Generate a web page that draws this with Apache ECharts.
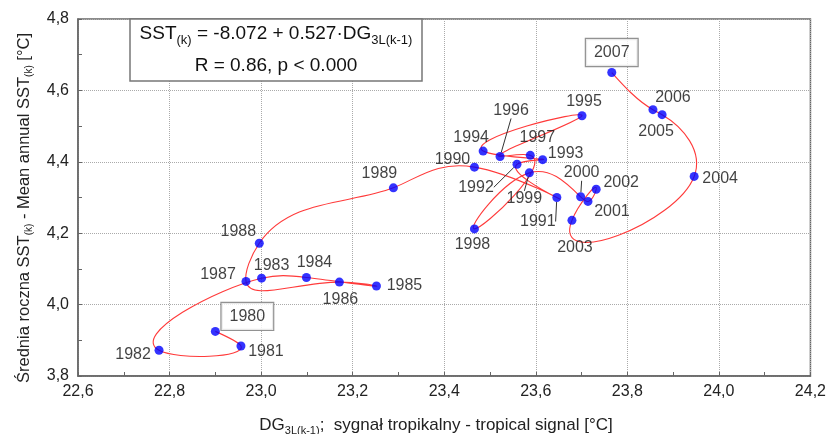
<!DOCTYPE html>
<html>
<head>
<meta charset="utf-8">
<script src="https://cdn.jsdelivr.net/npm/echarts@6/dist/echarts.min.js"></script>
<style>html,body{margin:0;padding:0;background:#fff}#c{width:829px;height:434px}</style>
</head>
<body>
<div id="c"></div>
<script>
// ---- data ----
const years = [1980,1981,1982,1983,1984,1985,1986,1987,1988,1989,1990,1991,1992,1993,1994,1995,1996,1997,1998,1999,2000,2001,2002,2003,2004,2005,2006,2007];
const dgValues = [22.900,22.956,22.777,23.001,23.099,23.252,23.171,22.967,22.996,23.289,23.466,23.646,23.559,23.615,23.485,23.701,23.522,23.588,23.466,23.586,23.698,23.714,23.732,23.679,23.946,23.876,23.856,23.766];
const sstValues = [3.925,3.884,3.872,4.074,4.076,4.052,4.063,4.065,4.172,4.327,4.385,4.300,4.393,4.406,4.430,4.529,4.415,4.418,4.212,4.369,4.302,4.289,4.323,4.236,4.359,4.532,4.546,4.650];
const xTicks = [22.6,22.8,23.0,23.2,23.4,23.6,23.8,24.0,24.2];
const yTicks = [3.8,4.0,4.2,4.4,4.6,4.8];
const boxedYears = [1980, 2007];
const leaderYears = [1991, 1992, 1996, 1999, 2000];
// label offsets (px, label centre relative to point)
const labelOffsets = {
  1980:[32,-15],1981:[25,6],1982:[-26,4],1983:[10,-13],1984:[8,-15],1985:[28,0],1986:[1,17],
  1987:[-28,-7],1988:[-21,-12],1989:[-14,-14],1990:[-22,-8],1991:[-19,24],1992:[-41,23],
  1993:[23,-6],1994:[-12,-13],1995:[2,-14],1996:[11,-46],1997:[7,-18],1998:[-2,16],
  1999:[-5,26],2000:[1,-24],2001:[24,10],2002:[25,-7],2003:[3,27],2004:[26,2],
  2005:[-6,17],2006:[20,-12],2007:[0,-20]
};

const FONT = 'Liberation Sans, Arial, sans-serif';
const fmt = v => v.toFixed(1).replace('.', ',');

const linePts = years.map((y,i)=>[dgValues[i], sstValues[i], y]);
function makeData(filterFn){
  return years.map((y,i)=>({y,i})).filter(o=>filterFn(o.y)).map(o=>{
    const item = {value:[dgValues[o.i], sstValues[o.i], o.y]};
    if (boxedYears.includes(o.y)) {
      item.label = {backgroundColor:'#fff', borderColor:'#777', borderWidth:1.2, padding:[6,8,5,8]};
    }
    return item;
  });
}
const plainData = makeData(y=>!leaderYears.includes(y));
const leaderData = makeData(y=>leaderYears.includes(y));

function layoutFor(data){
  return function(p){
    const yr = data[p.dataIndex].value[2];
    const o = labelOffsets[yr];
    return {dx:o[0], dy:o[1]};
  };
}

// natural cubic spline (chord-length parametrised) drawn through the axis-mapped points
function naturalSplineDerivs(t, v){
  const n = v.length - 1;
  const h = [];
  for (let i=0;i<n;i++) h.push(t[i+1]-t[i]);
  const a=[],b=[],c=[],d=[];
  for (let i=1;i<n;i++){
    a.push(h[i-1]); b.push(2*(h[i-1]+h[i])); c.push(h[i]);
    d.push(6*((v[i+1]-v[i])/h[i] - (v[i]-v[i-1])/h[i-1]));
  }
  const m = d.length;
  for (let i=1;i<m;i++){ const w=a[i]/b[i-1]; b[i]-=w*c[i-1]; d[i]-=w*d[i-1]; }
  const M = new Array(n+1).fill(0);
  for (let i=m-1;i>=0;i--){ M[i+1] = (d[i] - (i<m-1 ? c[i]*M[i+2] : 0))/b[i]; }
  const start=[], end=[];
  for (let i=0;i<n;i++){
    const s=(v[i+1]-v[i])/h[i];
    start.push(s - h[i]*(2*M[i]+M[i+1])/6);
    end.push(s + h[i]*(M[i]+2*M[i+1])/6);
  }
  return {h, start, end};
}
function renderSpline(params, api){
  if (params.dataIndex !== 0) return null;
  const n = years.length;
  const P = [];
  for (let k=0;k<n;k++) P.push(api.coord([api.value(0,k), api.value(1,k)]));
  const t=[0];
  for (let k=1;k<n;k++) t.push(t[k-1] + Math.hypot(P[k][0]-P[k-1][0], P[k][1]-P[k-1][1]));
  const sx = naturalSplineDerivs(t, P.map(p=>p[0]));
  const sy = naturalSplineDerivs(t, P.map(p=>p[1]));
  let path = 'M' + P[0][0] + ' ' + P[0][1];
  for (let i=0;i<n-1;i++){
    const h = sx.h[i]/3;
    path += ' C' + (P[i][0]+sx.start[i]*h) + ' ' + (P[i][1]+sy.start[i]*h) + ' ' +
      (P[i+1][0]-sx.end[i]*h) + ' ' + (P[i+1][1]-sy.end[i]*h) + ' ' + P[i+1][0] + ' ' + P[i+1][1];
  }
  return {type:'path', shape:{pathData:path}, style:{stroke:'#ff3a3a', fill:null, lineWidth:1.1}, silent:true};
}

const scatterBase = {
  type:'scatter', symbol:'circle', symbolSize:9, z:5,
  itemStyle:{color:'#0000ff'},
  label:{show:true, position:'inside', formatter:p=>String(p.value[2]), color:'#111', fontSize:16, fontFamily:FONT},
  emphasis:{disabled:true}
};

const chart = echarts.init(document.getElementById('c'), null, {renderer:'canvas'});
chart.setOption({
  animation:false,
  backgroundColor:'#fff',
  grid:{left:78, right:18, top:19, bottom:58, show:true, borderColor:'#666', borderWidth:1.5, backgroundColor:'transparent'},
  xAxis:{
    type:'value', min:xTicks[0], max:xTicks[xTicks.length-1], interval:0.2,
    axisLine:{onZero:false, lineStyle:{color:'#666', width:1.5}},
    axisTick:{show:true, inside:true, length:4, lineStyle:{color:'#666'}},
    minorTick:{show:true, splitNumber:2, length:4, lineStyle:{color:'#666'}},
    splitLine:{show:true, lineStyle:{color:'#aaa', type:'dotted', width:1}},
    axisLabel:{formatter:fmt, color:'#222', fontSize:16, fontFamily:FONT, margin:8}
  },
  yAxis:{
    type:'value', min:yTicks[0], max:yTicks[yTicks.length-1], interval:0.2,
    axisLine:{onZero:false, lineStyle:{color:'#666', width:1.5}},
    axisTick:{show:true, inside:true, length:4, lineStyle:{color:'#666'}},
    minorTick:{show:true, splitNumber:2, length:4, lineStyle:{color:'#666'}},
    splitLine:{show:true, lineStyle:{color:'#aaa', type:'dotted', width:1}},
    axisLabel:{formatter:fmt, color:'#222', fontSize:16, fontFamily:FONT, margin:9}
  },
  series:[
    {type:'custom', data:linePts, renderItem:renderSpline, encode:{x:0, y:1}, z:2, clip:false, silent:true},
    Object.assign({}, scatterBase, {data:plainData, labelLayout:layoutFor(plainData)}),
    Object.assign({}, scatterBase, {data:leaderData, labelLayout:layoutFor(leaderData),
      labelLine:{show:true, lineStyle:{color:'#333', width:1}}})
  ],
  graphic:[
    {type:'rect', shape:{x:130, y:19, width:292, height:62}, style:{fill:'#fff', stroke:'#777', lineWidth:1.5}, z:10},
    {type:'text', x:276, y:34, z:11, style:{
      text:'SST{s|(k)} = -8.072 + 0.527·DG{s|3L(k-1)}', fill:'#111', font:'19px '+FONT,
      align:'center', verticalAlign:'middle',
      rich:{s:{fontSize:13, fontFamily:FONT, fill:'#111', padding:[13,0,0,0]}}
    }},
    {type:'text', x:276, y:66, z:11, style:{
      text:'R = 0.86, p < 0.000', fill:'#111', font:'19px '+FONT, align:'center', verticalAlign:'middle'
    }},
    {type:'text', x:436, y:425, z:11, style:{
      text:'DG{s|3L(k-1)};  sygnał tropikalny - tropical signal [°C]', fill:'#222', font:'17px '+FONT,
      align:'center', verticalAlign:'middle',
      rich:{s:{fontSize:11, fontFamily:FONT, fill:'#222', padding:[11,0,0,0]}}
    }},
    {type:'text', x:24, y:208, rotation:Math.PI/2, z:11, style:{
      text:'Średnia roczna SST{s|(k)} - Mean annual SST{s|(k)} [°C]', fill:'#222', font:'16.5px '+FONT,
      align:'center', verticalAlign:'middle',
      rich:{s:{fontSize:10, fontFamily:FONT, fill:'#222', padding:[11,0,0,0]}}
    }}
  ]
});
</script>
</body>
</html>
